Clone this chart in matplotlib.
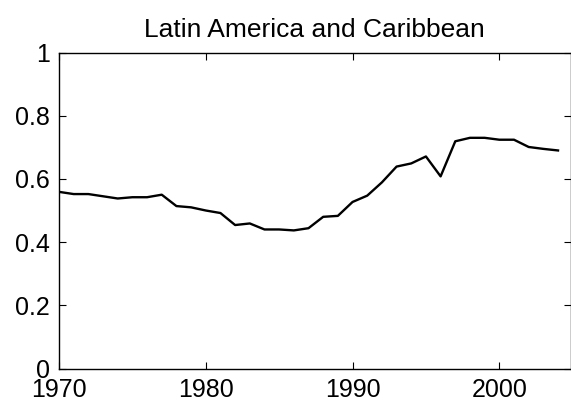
import matplotlib
matplotlib.use("Agg")
import matplotlib.pyplot as plt

plt.rcParams['font.family'] = ['Liberation Sans', 'DejaVu Sans']

years = list(range(1970, 2005))
values = [0.559, 0.552, 0.552, 0.545, 0.538, 0.542, 0.542, 0.550, 0.514, 0.510,
          0.500, 0.492, 0.454, 0.459, 0.440, 0.440, 0.437, 0.444, 0.480, 0.483,
          0.527, 0.547, 0.589, 0.639, 0.649, 0.671, 0.608, 0.719, 0.730, 0.730,
          0.724, 0.724, 0.701, 0.695, 0.690]
title = "Latin America and Caribbean"
xticks = [1970, 1980, 1990, 2000]
yticks = [0, 0.2, 0.4, 0.6, 0.8, 1]
yticklabels = ["0", "0.2", "0.4", "0.6", "0.8", "1"]

W, H = 571, 409
fig = plt.figure(figsize=(W / 100, H / 100), dpi=100)
l, r, t, b = 59, 570.5, 52.5, 368.5
ax = fig.add_axes([l / W, 1 - b / H, (r - l) / W, (b - t) / H])
ax.plot(years, values, color='black', linewidth=1.7)
ax.set_xlim(1970, 2004.85)
ax.set_ylim(0, 1)
ax.set_xticks(xticks)
ax.set_xticklabels([str(x) for x in xticks])
ax.set_yticks(yticks)
ax.set_yticklabels(yticklabels)
ax.tick_params(direction='in', length=5, width=0.8, top=True, right=True,
               labelsize=18, colors='black')
ax.tick_params(axis='y', pad=6.5)
ax.tick_params(axis='x', pad=7)
for s in ax.spines.values():
    s.set_linewidth(1.0)
ax.set_title(title, fontsize=19, pad=11.5)
fig.savefig("out.png", dpi=100)
